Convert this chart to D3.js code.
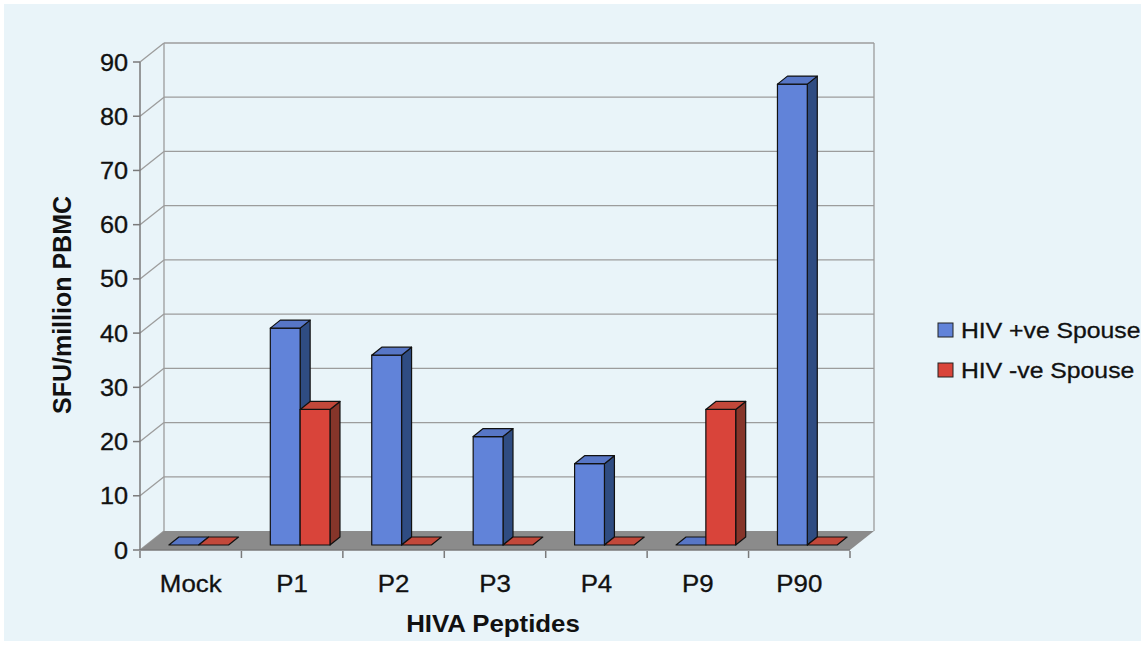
<!DOCTYPE html>
<html>
<head>
<meta charset="utf-8">
<script src="https://cdn.jsdelivr.net/npm/d3@7"></script>
<style>
  body { margin: 0; background: #ffffff; }
  svg { display: block; }
</style>
</head>
<body>
<script>
// chart values
var categories = ["Mock", "P1", "P2", "P3", "P4", "P9", "P90"];
var series_names = ["HIV +ve Spouse", "HIV -ve Spouse"];
var pos_values = [0, 40, 35, 20, 15, 0, 85];
var neg_values = [0, 25, 0, 0, 0, 25, 0];
var y_ticks = [0, 10, 20, 30, 40, 50, 60, 70, 80, 90];

var w = 1145, h = 645;

// colours
var bg_color = "#e9f4f9";
var grid_color = "#9c9c9c";
var floor_color = "#8b8b8b";
var text_color = "#111111";
var face_colors = [
  {front: "#6183d9", side: "#2f4c82", top: "#5776c6"},
  {front: "#d9443a", side: "#86352a", top: "#c2483a"}
];

// 3d geometry
var depth_dx = 24, depth_dy = -19;   // wall depth
var bar_shift_x = 8, bar_shift_y = -5; // bars sit a bit behind the front
var bar_dx = 10, bar_dy = -8;        // bar thickness

var x = d3.scaleBand().domain(categories).range([140, 850]);
var y = d3.scaleLinear().domain([0, 90]).range([550, 62]);

var svg = d3.select("body").append("svg")
  .attr("width", w).attr("height", h);

svg.append("rect")
  .attr("x", 4).attr("y", 4)
  .attr("width", w - 8).attr("height", h - 8)
  .style("fill", bg_color);

var x0 = x.range()[0], x1 = x.range()[1];

// gridlines on the left and back walls
y_ticks.forEach(function(t){
  if (t > 0) {
    svg.append("line")
      .attr("x1", x0 + depth_dx).attr("y1", y(t) + depth_dy)
      .attr("x2", x1 + depth_dx).attr("y2", y(t) + depth_dy)
      .style("stroke", grid_color).style("stroke-width", 1.3);
  }
  svg.append("line")
    .attr("x1", x0).attr("y1", y(t))
    .attr("x2", x0 + depth_dx).attr("y2", y(t) + depth_dy)
    .style("stroke", grid_color).style("stroke-width", 1.3);
});
// wall edges
svg.append("line")
  .attr("x1", x0 + depth_dx).attr("y1", y(90) + depth_dy)
  .attr("x2", x0 + depth_dx).attr("y2", y(0) + depth_dy)
  .style("stroke", grid_color).style("stroke-width", 1.3);
svg.append("line")
  .attr("x1", x1 + depth_dx).attr("y1", y(90) + depth_dy)
  .attr("x2", x1 + depth_dx).attr("y2", y(0) + depth_dy)
  .style("stroke", grid_color).style("stroke-width", 1.3);

// floor
var floor_pts = [[x0, y(0)], [x1, y(0)], [x1 + depth_dx, y(0) + depth_dy], [x0 + depth_dx, y(0) + depth_dy]];
svg.append("polygon")
  .attr("points", floor_pts.map(function(p){ return p.join(","); }).join(" "))
  .style("fill", floor_color);

// bars
var band = x.bandwidth();
var bar_w = band / 3.4;
var pad = (band - 2 * bar_w) / 2;

var draw_bar = function(cat, val, s){
  var c = face_colors[s];
  var left = x(cat) + pad + s * bar_w + bar_shift_x;
  var right = left + bar_w;
  var bottom = y(0) + bar_shift_y;
  var top = y(val) + bar_shift_y;
  var g = svg.append("g").attr("class", "bar");
  var poly = function(pts, fill){
    g.append("polygon")
      .attr("points", pts.map(function(p){ return p.join(","); }).join(" "))
      .style("fill", fill)
      .style("stroke", "#111")
      .style("stroke-width", 1.2)
      .style("stroke-linejoin", "round");
  };
  if (val > 0) {
    poly([[right, top], [right + bar_dx, top + bar_dy], [right + bar_dx, bottom + bar_dy], [right, bottom]], c.side);
    poly([[left, top], [right, top], [right, bottom], [left, bottom]], c.front);
  }
  poly([[left, top], [right, top], [right + bar_dx, top + bar_dy], [left + bar_dx, top + bar_dy]], c.top);
};

categories.forEach(function(cat, i){
  draw_bar(cat, pos_values[i], 0);
  draw_bar(cat, neg_values[i], 1);
});

// value axis
svg.append("line")
  .attr("x1", x0).attr("y1", y(90))
  .attr("x2", x0).attr("y2", y(0))
  .style("stroke", "#7a7a7a").style("stroke-width", 1.5);
svg.append("line")
  .attr("x1", x0).attr("y1", y(0))
  .attr("x2", x1).attr("y2", y(0))
  .style("stroke", "#7a7a7a").style("stroke-width", 1.5);

var label_font = "Liberation Sans, Arial, sans-serif";

y_ticks.forEach(function(t){
  svg.append("line")
    .attr("x1", x0 - 7).attr("y1", y(t))
    .attr("x2", x0).attr("y2", y(t))
    .style("stroke", "#7a7a7a").style("stroke-width", 1.5);
  svg.append("text")
    .attr("transform", "translate(" + (x0 - 12) + "," + (y(t) + 8.5) + ") scale(1.1,1)")
    .attr("font-family", label_font)
    .attr("font-size", 23)
    .attr("text-anchor", "end")
    .attr("fill", text_color)
    .style("stroke", text_color).style("stroke-width", 0.3)
    .text(t);
});

// category axis ticks and labels
categories.forEach(function(cat, i){
  svg.append("line")
    .attr("x1", x(cat)).attr("y1", y(0) + 1)
    .attr("x2", x(cat)).attr("y2", y(0) + 8)
    .style("stroke", "#7a7a7a").style("stroke-width", 1.5);
  svg.append("text")
    .attr("transform", "translate(" + (x(cat) + band / 2) + ",592) scale(1.1,1)")
    .attr("font-family", label_font)
    .attr("font-size", 23.5)
    .attr("text-anchor", "middle")
    .attr("fill", text_color)
    .style("stroke", text_color).style("stroke-width", 0.3)
    .text(cat);
});
svg.append("line")
  .attr("x1", x1).attr("y1", y(0) + 1)
  .attr("x2", x1).attr("y2", y(0) + 8)
  .style("stroke", "#7a7a7a").style("stroke-width", 1.5);

// axis titles
svg.append("text")
  .attr("transform", "translate(493,632) scale(1.1,1)")
  .attr("font-family", label_font)
  .attr("font-weight", "bold")
  .attr("font-size", 23.5)
  .attr("text-anchor", "middle")
  .attr("fill", text_color)
  .text("HIVA Peptides");

svg.append("text")
  .attr("transform", "translate(71,305) rotate(-90)")
  .attr("font-family", label_font)
  .attr("font-weight", "bold")
  .attr("font-size", 25)
  .attr("text-anchor", "middle")
  .attr("fill", text_color)
  .text("SFU/million PBMC");

// legend
series_names.forEach(function(name, i){
  var ly = 330 + i * 40;
  svg.append("rect")
    .attr("x", 938).attr("y", ly - 7)
    .attr("width", 15).attr("height", 14)
    .style("fill", face_colors[i].front)
    .style("stroke", "#222").style("stroke-width", 1);
  svg.append("text")
    .attr("transform", "translate(961," + (ly + 8) + ") scale(1.1,1)")
    .attr("font-family", label_font)
    .attr("font-size", 22.5)
    .attr("fill", text_color)
    .style("stroke", text_color).style("stroke-width", 0.3)
    .text(name);
});
</script>
</body>
</html>
